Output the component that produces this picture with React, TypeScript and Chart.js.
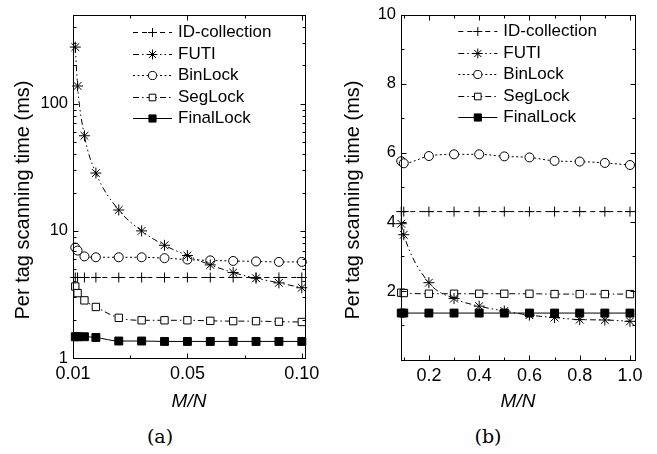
import React, { useEffect, useRef } from "react";
import { Chart, registerables } from "chart.js";

Chart.register(...registerables);

const FONT = "'Liberation Sans', Arial, sans-serif";

// ---------- data ----------
const seriesNames = ["ID-collection", "FUTI", "BinLock", "SegLock", "FinalLock"];

// panel (a)
const xA = [0.001, 0.002, 0.005, 0.01, 0.02, 0.03, 0.04, 0.05, 0.06, 0.07, 0.08, 0.09, 0.1];
const idA = [4.3, 4.3, 4.3, 4.3, 4.3, 4.3, 4.3, 4.3, 4.3, 4.3, 4.3, 4.3, 4.3];
const futiA = [279, 138, 56, 28.5, 14.6, 10.0, 7.7, 6.4, 5.4, 4.7, 4.24, 3.9, 3.57];
const binA = [7.4, 7.0, 6.3, 6.2, 6.2, 6.2, 6.1, 5.95, 5.86, 5.8, 5.75, 5.7, 5.7];
const segA = [3.65, 3.24, 2.84, 2.52, 2.07, 1.98, 1.98, 1.98, 1.96, 1.95, 1.95, 1.93, 1.92];
const finA = [1.47, 1.47, 1.47, 1.45, 1.36, 1.36, 1.35, 1.35, 1.35, 1.35, 1.35, 1.35, 1.35];
const xTicksA = [0, 0.05, 0.1];
const xTickLabelsA = ["0.01", "0.05", "0.10"];
const xMinorA = [0.025, 0.075];
const yTicksA = [1, 10, 100];
const yTickLabelsA = ["1", "10", "100"];
const yMinorA = [2, 3, 4, 5, 6, 7, 8, 9, 20, 30, 40, 50, 60, 70, 80, 90, 200, 300, 400];

// panel (b)
const xB = [0.09, 0.1, 0.2, 0.3, 0.4, 0.5, 0.6, 0.7, 0.8, 0.9, 1.0];
const idB = [4.3, 4.3, 4.3, 4.3, 4.3, 4.3, 4.3, 4.3, 4.3, 4.3, 4.3];
const futiB = [3.95, 3.63, 2.24, 1.78, 1.56, 1.42, 1.3, 1.23, 1.17, 1.16, 1.12];
const binB = [5.76, 5.7, 5.91, 5.96, 5.96, 5.9, 5.87, 5.77, 5.75, 5.71, 5.65];
const segB = [1.95, 1.94, 1.92, 1.92, 1.92, 1.92, 1.92, 1.91, 1.91, 1.91, 1.91];
const finB = [1.36, 1.36, 1.36, 1.36, 1.36, 1.36, 1.36, 1.36, 1.36, 1.36, 1.36];
const xTicksB = [0.2, 0.4, 0.6, 0.8, 1.0];
const xTickLabelsB = ["0.2", "0.4", "0.6", "0.8", "1.0"];
const xMinorB = [0.1, 0.3, 0.5, 0.7, 0.9];
const yTicksB = [0, 2, 4, 6, 8, 10];
const yTickLabelsB = ["", "2", "4", "6", "8", "10"];
const yMinorB = [1, 3, 5, 7, 9];

const yTitle = "Per tag scanning time (ms)";
const xTitle = "M/N";

// ---------- styles ----------
const STYLES = [
  { point: "cross", r: 5, dash: [5, 4], fill: "#fff" },
  { point: "star", r: 5.5, dash: [6, 3, 1.5, 3, 1.5, 3], fill: "#fff" },
  { point: "circle", r: 4.5, dash: [2, 2.5], fill: "#fff" },
  { point: "rect", r: 5.2, dash: [6, 3, 1.5, 3], fill: "#fff" },
  { point: "rect", r: 5.6, dash: [], fill: "#000" },
];

const H = 420;

type Panel = {
  x: number[];
  series: number[][];
  yType: "linear" | "logarithmic";
  xMin: number;
  xMax: number;
  yMin: number;
  yMax: number;
  xTicks: number[];
  xTickLabels: string[];
  xMinor: number[];
  yTicks: number[];
  yTickLabels: string[];
  yMinor: number[];
  width: number;
  area: { left: number; right: number; top: number; bottom: number };
  legend: { x: number; y: number };
  titleCenterY: number;
};

const panelA: Panel = {
  x: xA,
  series: [idA, futiA, binA, segA, finA],
  yType: "logarithmic",
  xMin: 0,
  xMax: 0.1014,
  yMin: 1,
  yMax: 500,
  xTicks: xTicksA,
  xTickLabels: xTickLabelsA,
  xMinor: xMinorA,
  yTicks: yTicksA,
  yTickLabels: yTickLabelsA,
  yMinor: yMinorA,
  width: 330,
  area: { left: 73, right: 305, top: 12, bottom: 358 },
  legend: { x: 133, y: 32.3 },
  titleCenterY: 200,
};

const panelB: Panel = {
  x: xB,
  series: [idB, futiB, binB, segB, finB],
  yType: "linear",
  xMin: 0.089,
  xMax: 1.02,
  yMin: 0,
  yMax: 10,
  xTicks: xTicksB,
  xTickLabels: xTickLabelsB,
  xMinor: xMinorB,
  yTicks: yTicksB,
  yTickLabels: yTickLabelsB,
  yMinor: yMinorB,
  width: 327,
  area: { left: 71, right: 305, top: 12, bottom: 360 },
  legend: { x: 128.3, y: 31 },
  titleCenterY: 200,
};

function drawMarker(ctx: CanvasRenderingContext2D, style: string, x: number, y: number, r: number, fill: string) {
  ctx.beginPath();
  if (style === "circle") {
    ctx.arc(x, y, r, 0, Math.PI * 2);
    ctx.fillStyle = fill;
    ctx.fill();
    ctx.stroke();
  } else if (style === "rect") {
    const s = r * Math.SQRT1_2;
    ctx.rect(x - s, y - s, 2 * s, 2 * s);
    ctx.fillStyle = fill;
    ctx.fill();
    ctx.stroke();
  } else if (style === "cross") {
    ctx.moveTo(x - r, y);
    ctx.lineTo(x + r, y);
    ctx.moveTo(x, y - r);
    ctx.lineTo(x, y + r);
    ctx.stroke();
  } else if (style === "star") {
    const d = r * Math.SQRT1_2;
    ctx.moveTo(x - r, y);
    ctx.lineTo(x + r, y);
    ctx.moveTo(x, y - r);
    ctx.lineTo(x, y + r);
    ctx.moveTo(x - d, y - d);
    ctx.lineTo(x + d, y + d);
    ctx.moveTo(x - d, y + d);
    ctx.lineTo(x + d, y - d);
    ctx.stroke();
  }
}

function overlayPlugin(p: Panel) {
  return {
    id: "overlay",
    afterDraw(chart: any) {
      const ctx: CanvasRenderingContext2D = chart.ctx;
      const { left, right, top, bottom } = chart.chartArea;
      const xs = chart.scales.x;
      const ys = chart.scales.y;
      ctx.save();
      ctx.strokeStyle = "#000";
      ctx.lineWidth = 1;
      ctx.setLineDash([]);
      const L = Math.round(left) + 0.5;
      const R = Math.round(right) + 0.5;
      const T = Math.round(top) + 0.5;
      const B = Math.round(bottom) + 0.5;
      ctx.strokeRect(L, T, R - L, B - T);
      // inner ticks
      ctx.beginPath();
      const xt = (v: number, len: number) => {
        const px = Math.round(xs.getPixelForValue(v)) + 0.5;
        ctx.moveTo(px, B);
        ctx.lineTo(px, B - len);
        ctx.moveTo(px, T);
        ctx.lineTo(px, T + len);
      };
      const yt = (v: number, len: number) => {
        const py = Math.round(ys.getPixelForValue(v)) + 0.5;
        ctx.moveTo(L, py);
        ctx.lineTo(L + len, py);
        ctx.moveTo(R, py);
        ctx.lineTo(R - len, py);
      };
      p.xTicks.forEach((v) => xt(v, 5));
      p.xMinor.forEach((v) => xt(v, 3));
      p.yTicks.forEach((v) => yt(v, 5));
      p.yMinor.forEach((v) => yt(v, 3));
      ctx.stroke();

      // y title
      ctx.fillStyle = "#000";
      ctx.font = `20px ${FONT}`;
      ctx.textAlign = "center";
      ctx.textBaseline = "middle";
      ctx.save();
      ctx.translate(23, p.titleCenterY);
      ctx.rotate(-Math.PI / 2);
      ctx.fillText(yTitle, 0, 0);
      ctx.restore();

      // legend
      chart.data.datasets.forEach((ds: any, i: number) => {
        const st = STYLES[i];
        const y = Math.round(p.legend.y + i * 21.5) + 0.5;
        const x0 = p.legend.x;
        ctx.lineWidth = 1;
        ctx.strokeStyle = "#000";
        ctx.setLineDash(st.dash);
        ctx.beginPath();
        ctx.moveTo(x0, y);
        ctx.lineTo(x0 + 39, y);
        ctx.stroke();
        ctx.setLineDash([]);
        drawMarker(ctx, st.point, x0 + 19.5, y, st.r * 0.9, st.fill);
        ctx.fillStyle = "#000";
        ctx.font = `17px ${FONT}`;
        ctx.textAlign = "left";
        ctx.textBaseline = "middle";
        ctx.fillText(ds.label, x0 + 45, y);
      });
      ctx.restore();
    },
  };
}

function buildConfig(p: Panel): any {
  const datasets = p.series.map((vals, i) => ({
    label: seriesNames[i],
    data: p.x.map((xv, j) => ({ x: xv, y: vals[j] })),
    borderColor: "#000",
    borderWidth: 1,
    borderDash: STYLES[i].dash,
    pointStyle: STYLES[i].point,
    pointRadius: STYLES[i].r,
    pointBorderWidth: 1,
    pointBorderColor: "#000",
    pointBackgroundColor: STYLES[i].fill,
    cubicInterpolationMode: "monotone",
    fill: false,
    clip: false,
  }));
  return {
    type: "line",
    data: { datasets },
    options: {
      responsive: false,
      maintainAspectRatio: false,
      animation: false,
      events: [],
      layout: { padding: { top: p.area.top, right: p.width - p.area.right, left: 0, bottom: 0 } },
      plugins: { legend: { display: false }, tooltip: { enabled: false }, title: { display: false } },
      scales: {
        x: {
          type: "linear",
          min: p.xMin,
          max: p.xMax,
          grid: { display: false, drawTicks: false },
          border: { display: false },
          afterBuildTicks: (s: any) => {
            s.ticks = p.xTicks.map((v) => ({ value: v }));
          },
          afterFit: (s: any) => {
            s.height = H - p.area.bottom;
          },
          ticks: {
            autoSkip: false,
            maxRotation: 0,
            minRotation: 0,
            padding: 5,
            color: "#000",
            font: { family: FONT, size: 18 },
            callback: (_v: any, idx: number) => p.xTickLabels[idx],
          },
          title: {
            display: true,
            text: xTitle,
            color: "#000",
            font: { family: FONT, size: 19, style: "italic" },
            padding: { top: 0, bottom: 7 },
          },
        },
        y: {
          type: p.yType,
          min: p.yMin,
          max: p.yMax,
          grid: { display: false, drawTicks: false },
          border: { display: false },
          afterBuildTicks: (s: any) => {
            s.ticks = p.yTicks.map((v) => ({ value: v }));
          },
          afterFit: (s: any) => {
            s.width = p.area.left;
          },
          ticks: {
            autoSkip: false,
            padding: 5,
            color: "#000",
            font: { family: FONT, size: 16.5 },
            callback: (_v: any, idx: number) => p.yTickLabels[idx],
          },
        },
      },
    },
    plugins: [overlayPlugin(p)],
  };
}

function ChartPanel({ panel, left }: { panel: Panel; left: number }) {
  const ref = useRef<HTMLCanvasElement>(null);
  useEffect(() => {
    const chart = new Chart(ref.current as HTMLCanvasElement, buildConfig(panel));
    return () => chart.destroy();
  }, [panel]);
  return (
    <canvas
      ref={ref}
      width={panel.width}
      height={H}
      style={{ position: "absolute", left, top: 0, width: panel.width, height: H }}
    />
  );
}

const captionStyle: React.CSSProperties = {
  position: "absolute",
  top: 424,
  width: 60,
  textAlign: "center",
  fontFamily: "'DejaVu Serif', serif",
  fontSize: 19,
  lineHeight: "24px",
  color: "#000",
};

export default function App() {
  return (
    <div style={{ position: "fixed", left: 0, top: 0, width: 657, height: 454, background: "#fff" }}>
      <ChartPanel panel={panelA} left={0} />
      <ChartPanel panel={panelB} left={330} />
      <div style={{ ...captionStyle, left: 160 - 30 }}>(a)</div>
      <div style={{ ...captionStyle, left: 488 - 30 }}>(b)</div>
    </div>
  );
}
